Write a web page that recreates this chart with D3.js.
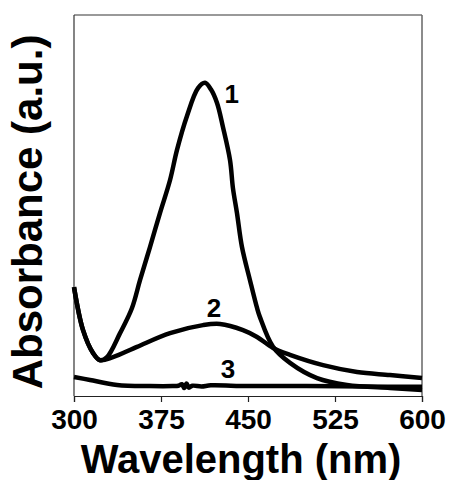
<!DOCTYPE html>
<html>
<head>
<meta charset="utf-8">
<script src="https://cdn.jsdelivr.net/npm/d3@7"></script>
<style>
  body { margin: 0; background: #fff; }
  svg text { font-family: "Liberation Sans", Arial, sans-serif; font-weight: bold; fill: #000; }
</style>
</head>
<body>
<svg id="chart" width="449" height="480"></svg>
<script>
// wavelength (nm) and absorbance (a.u.)
var wl1 = [300, 307.8, 316.4, 322.4, 328.4, 339.7, 350, 356.9, 365.5, 374.1, 382.8, 388.8, 397.4, 406.9, 412.9, 418, 423.3, 428.4, 434.5, 437, 440.5, 444.8, 451.7, 457.8, 460.3, 471.6, 486.2, 509.5, 535.3, 572.4, 600];
var ab1 = [0.286, 0.173, 0.113, 0.094, 0.102, 0.165, 0.231, 0.304, 0.391, 0.480, 0.567, 0.646, 0.735, 0.808, 0.822, 0.805, 0.769, 0.706, 0.619, 0.546, 0.480, 0.391, 0.304, 0.231, 0.207, 0.129, 0.087, 0.047, 0.029, 0.021, 0.016];

var wl2 = [300, 307.8, 316.4, 322.4, 333.6, 354.3, 382.8, 411.2, 425.9, 445.7, 457.8, 471.6, 486.2, 514.7, 544, 572.4, 600];
var ab2 = [0.286, 0.173, 0.113, 0.094, 0.102, 0.129, 0.165, 0.186, 0.189, 0.173, 0.155, 0.126, 0.108, 0.081, 0.063, 0.055, 0.047];

var wl3 = [300, 313.8, 337.1, 365.5, 385, 390, 393, 395, 397, 399, 402, 410, 418, 450, 500, 550, 600];
var ab3 = [0.050, 0.042, 0.029, 0.026, 0.026, 0.027, 0.031, 0.021, 0.033, 0.022, 0.027, 0.025, 0.028, 0.026, 0.026, 0.025, 0.024];

var xTicks = [300, 375, 450, 525, 600];
var curveLabels = ["1", "2", "3"];
var labelWl = [436, 420.7, 432.8];
var labelAb = [0.769, 0.207, 0.047];

var margin = {left: 74, top: 15, right: 27, bottom: 84},
    width = 449, height = 480,
    g_width = width - margin.left - margin.right,
    g_height = height - margin.top - margin.bottom;

var svg = d3.select('#chart');
var g = svg.append('g').attr('transform', 'translate(' + margin.left + ',' + margin.top + ')');

var scale_x = d3.scaleLinear().domain([300, 600]).range([0, g_width]);
var scale_y = d3.scaleLinear().domain([0, 1]).range([g_height, 0]);

// frame: top and right in grey
g.append('line').attr('x1', 0).attr('x2', g_width).attr('y1', 0).attr('y2', 0)
  .attr('stroke', '#777').attr('stroke-width', 1.5);
g.append('line').attr('x1', g_width).attr('x2', g_width).attr('y1', 0).attr('y2', g_height)
  .attr('stroke', '#666').attr('stroke-width', 1.5);
g.append('line').attr('x1', 0).attr('x2', 0).attr('y1', 0).attr('y2', g_height)
  .attr('stroke', '#333').attr('stroke-width', 1.2);

var xAxis = g.append('g').attr('transform', 'translate(0,' + g_height + ')')
  .call(d3.axisBottom(scale_x).tickValues(xTicks).tickSize(6).tickPadding(7).tickFormat(d3.format('d')));
xAxis.select('.domain').attr('stroke', '#222').attr('stroke-width', 1.2);
xAxis.selectAll('.tick line').attr('stroke', '#222').attr('stroke-width', 1.2);
xAxis.selectAll('.tick text').style('font-size', '28px').style('font-family', '"Liberation Sans", Arial, sans-serif')
  .style('font-weight', 'bold').attr('fill', '#000');

var line_generator = d3.line()
  .x(function(d){ return scale_x(d[0]); })
  .y(function(d){ return scale_y(d[1]); })
  .curve(d3.curveCatmullRom);

[[wl1, ab1], [wl2, ab2], [wl3, ab3]].forEach(function(s){
  var pts = s[0].map(function(w, i){ return [w, s[1][i]]; });
  g.append('path').attr('d', line_generator(pts))
    .attr('fill', 'none').attr('stroke', '#000').attr('stroke-width', 4.5)
    .attr('stroke-linejoin', 'round');
});

curveLabels.forEach(function(t, i){
  g.append('text').attr('x', scale_x(labelWl[i])).attr('y', scale_y(labelAb[i]))
    .attr('text-anchor', 'middle').style('font-size', '26px').text(t);
});

svg.append('text').attr('x', 241).attr('y', 473).attr('text-anchor', 'middle')
  .style('font-size', '40px').text('Wavelength (nm)');

svg.append('text').attr('transform', 'translate(42,212) rotate(-90)').attr('text-anchor', 'middle')
  .style('font-size', '42px').text('Absorbance (a.u.)');
</script>
</body>
</html>
